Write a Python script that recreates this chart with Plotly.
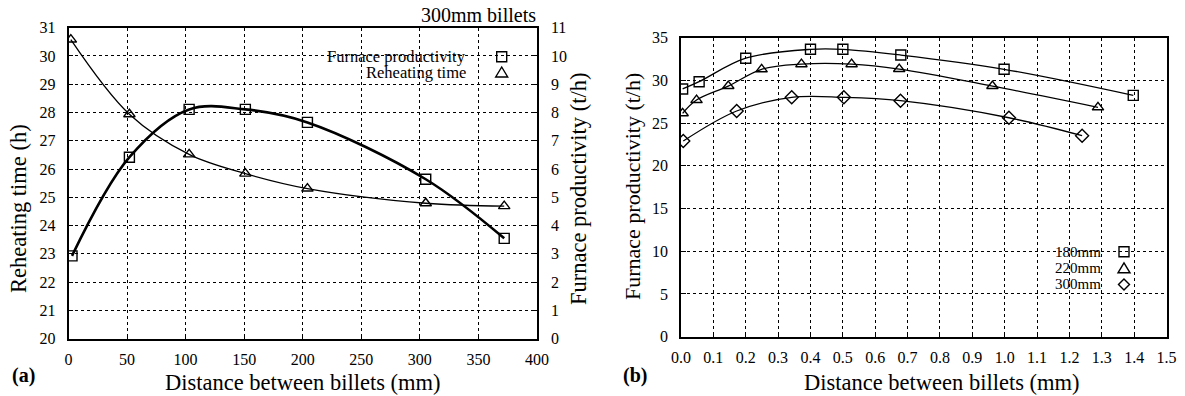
import plotly.graph_objects as go

W, H = 1185, 396

# ---------------- data (a) 300mm billets ----------------
dist_prod_a = [3, 52, 103, 151, 204, 305, 372]
productivity_a = [2.93, 6.42, 8.11, 8.11, 7.65, 5.64, 3.55]
dist_time_a = [2, 52, 103, 151, 204, 305, 372]
reheat_time_a = [30.58, 27.94, 26.52, 25.84, 25.31, 24.79, 24.69]

# ---------------- data (b) ----------------
dist_180 = [0.005, 0.056, 0.2, 0.4, 0.5, 0.679, 0.998, 1.397]
prod_180 = [29.0, 29.85, 32.6, 33.64, 33.64, 32.97, 31.3, 28.25]
dist_220 = [0.005, 0.048, 0.146, 0.249, 0.372, 0.527, 0.674, 0.962, 1.288]
prod_220 = [26.15, 27.7, 29.34, 31.3, 31.9, 31.9, 31.33, 29.34, 26.85]
dist_300 = [0.007, 0.172, 0.342, 0.503, 0.678, 1.013, 1.239]
prod_300 = [22.9, 26.42, 28.02, 28.02, 27.63, 25.63, 23.53]

FONT = "Liberation Serif"


def px(x):
    return x / W


def py(y):
    return 1 - y / H


fig = go.Figure()

mk = dict(color="black", size=10, line=dict(color="black", width=1.4))

fig.add_trace(go.Scatter(x=dist_time_a, y=reheat_time_a, mode="lines+markers",
                         line=dict(color="black", width=1.3, shape="spline", smoothing=1.0),
                         marker=dict(symbol="triangle-up-open", **mk),
                         xaxis="x", yaxis="y", name="Reheating time", showlegend=False))
fig.add_trace(go.Scatter(x=dist_prod_a, y=productivity_a, mode="lines+markers",
                         line=dict(color="black", width=2.6, shape="spline", smoothing=1.0),
                         marker=dict(symbol="square-open", **mk),
                         xaxis="x", yaxis="y2", name="Furnace productivity", showlegend=False))

for xs, ys, sym, nm in [(dist_180, prod_180, "square-open", "180mm"),
                        (dist_220, prod_220, "triangle-up-open", "220mm"),
                        (dist_300, prod_300, "diamond-open", "300mm")]:
    fig.add_trace(go.Scatter(x=xs, y=ys, mode="lines+markers",
                             line=dict(color="black", width=1.3, shape="spline", smoothing=1.0),
                             marker=dict(symbol=sym, **mk),
                             xaxis="x2", yaxis="y3", name=nm, showlegend=False))

ax_common = dict(showgrid=True, gridcolor="black", griddash="3px,3px", gridwidth=1,
                 showline=True, linecolor="black", linewidth=1.5, zeroline=False,
                 ticks="inside", ticklen=5, tickcolor="black", tickwidth=1,
                 tickfont=dict(family=FONT, size=16, color="black"))

fig.update_layout(
    width=W, height=H,
    margin=dict(l=0, r=0, t=0, b=0, autoexpand=False),
    paper_bgcolor="white", plot_bgcolor="white",
    xaxis=dict(domain=[px(68.5), px(537)], range=[0, 400], dtick=50, anchor="y",
               mirror=True, ticklabelstandoff=5, **ax_common),
    yaxis=dict(domain=[py(338.7), py(27.7)], range=[20, 31], dtick=1, anchor="x",
               ticklabelstandoff=8, **ax_common),
    yaxis2=dict(overlaying="y", side="right", range=[0, 11], dtick=1, anchor="x",
                ticklabelstandoff=9, **{**ax_common, "showgrid": False}),
    xaxis2=dict(domain=[px(681), px(1166.6)], range=[0, 1.5], dtick=0.1, tickformat=".1f",
                anchor="y3", mirror=True, ticklabelstandoff=5, **ax_common),
    yaxis3=dict(domain=[py(336.7), py(37.7)], range=[0, 35], dtick=5, anchor="x2",
                mirror=True, ticklabelstandoff=8, **ax_common),
    showlegend=False,
)

shapes = []
# white masks behind the keys (hide the grid, as in the reference)
for (x0, y0, x1, y1) in [(270, 44, 530, 82), (1053, 243, 1153, 294)]:
    shapes.append(dict(type="rect", xref="paper", yref="paper", x0=px(x0), x1=px(x1),
                       y0=py(y1), y1=py(y0), fillcolor="white", line=dict(width=0),
                       layer="between"))


def key_square(cx, cy, r=5):
    return dict(type="rect", xref="paper", yref="paper", x0=px(cx - r), x1=px(cx + r),
                y0=py(cy + r), y1=py(cy - r), line=dict(color="black", width=1.4), layer="above")


def key_path(pts):
    d = "M " + " L ".join(f"{px(a):.5f},{py(b):.5f}" for a, b in pts) + " Z"
    return dict(type="path", xref="paper", yref="paper", path=d,
                line=dict(color="black", width=1.4), layer="above")


def key_tri(cx, cy):
    return key_path([(cx, cy - 5.5), (cx + 6, cy + 4.5), (cx - 6, cy + 4.5)])


def key_dia(cx, cy):
    return key_path([(cx, cy - 5.5), (cx + 5.5, cy), (cx, cy + 5.5), (cx - 5.5, cy)])


shapes += [key_square(501.7, 56.7), key_tri(501.7, 72.5),
           key_square(1124, 251.7), key_tri(1124, 268.3), key_dia(1124, 284.5)]
fig.update_layout(shapes=shapes)

ann = []


def text(t, x, y, size, xanchor="center", angle=0, bold=False):
    ann.append(dict(text=f"<b>{t}</b>" if bold else t, x=px(x), y=py(y), xref="paper", yref="paper",
                    xanchor=xanchor, yanchor="middle", showarrow=False, textangle=angle,
                    font=dict(family=FONT, size=size, color="black")))


text("300mm billets", 538, 15, 20, xanchor="right")
text("Furnace productivity", 468, 56.7, 16.5, xanchor="right")
text("Reheating time", 468, 72, 16.5, xanchor="right")
text("180mm", 1103, 251.7, 15, xanchor="right")
text("220mm", 1103, 268.3, 15, xanchor="right")
text("300mm", 1103, 284.3, 15, xanchor="right")
text("Reheating time (h)", 18, 209, 22.5, angle=-90)
text("Furnace productivity (t/h)", 578, 189, 22.5, angle=-90)
text("Furnace productivity (t/h)", 632, 187, 22, angle=-90)
text("Distance between billets (mm)", 303, 382, 22.5)
text("Distance between billets (mm)", 942, 382, 22.5)
text("(a)", 10, 375, 20, xanchor="left", bold=True)
text("(b)", 621, 375, 20, xanchor="left", bold=True)
fig.update_layout(annotations=ann)

fig.write_html("out.html", config={"displayModeBar": False},
               post_script="document.body.style.margin='0px';")
